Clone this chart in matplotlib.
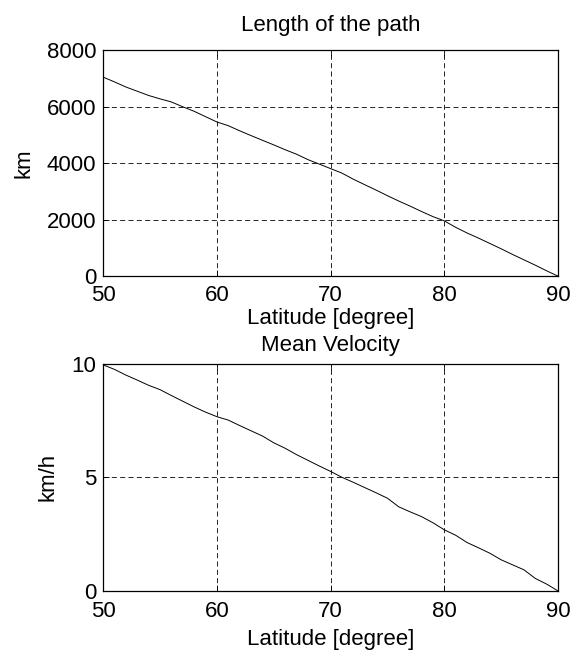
import matplotlib
matplotlib.use("Agg")
import matplotlib.pyplot as plt

# latitude [degree]
lat = list(range(50, 91))

# length of the path [km]
length_km = [7050, 6880, 6700, 6550, 6400, 6280, 6170, 6000, 5840, 5650,
             5462, 5330, 5150, 4980, 4814, 4650, 4480, 4320, 4130, 3970,
             3810, 3650, 3434, 3240, 3050, 2850, 2660, 2480, 2290, 2110,
             1959, 1730, 1530, 1350, 1160, 970, 770, 580, 390, 190, 0]

# mean velocity [km/h]
velocity = [9.95, 9.75, 9.5, 9.28, 9.05, 8.86, 8.6, 8.35, 8.1, 7.87,
            7.67, 7.52, 7.28, 7.05, 6.82, 6.52, 6.28, 6.0, 5.75, 5.5,
            5.26, 5.0, 4.78, 4.55, 4.32, 4.08, 3.7, 3.48, 3.27, 3.0,
            2.69, 2.45, 2.13, 1.9, 1.66, 1.37, 1.15, 0.93, 0.55, 0.3, 0.0]

plt.rcParams["font.family"] = ["Liberation Sans", "DejaVu Sans"]
FS = 16

fig = plt.figure(figsize=(5.73, 6.53), dpi=100)
ax1 = fig.add_axes([0.180, 0.577, 0.794, 0.346])
ax2 = fig.add_axes([0.180, 0.095, 0.794, 0.348])

def style(ax, xpad, lpad):
    ax.grid(True, color="black", linestyle=(0, (6, 4)), linewidth=0.6)
    ax.tick_params(direction="in", length=4, width=0.6, top=True, right=True,
                   labelsize=FS)
    ax.tick_params(axis="x", pad=xpad)
    ax.tick_params(axis="y", pad=5)
    for s in ax.spines.values():
        s.set_linewidth(0.9)
    ax.set_xlim(50, 90)
    ax.set_xticks([50, 60, 70, 80, 90])
    ax.set_xlabel("Latitude [degree]", fontsize=FS, labelpad=lpad)

ax1.plot(lat, length_km, color="black", linewidth=0.7)
ax1.set_ylim(0, 8000)
ax1.set_yticks([0, 2000, 4000, 6000, 8000])
ax1.set_ylabel("km", fontsize=FS, labelpad=9)
ax1.set_title("Length of the path", fontsize=FS, pad=14)
style(ax1, 6.5, 1)

ax2.plot(lat, velocity, color="black", linewidth=0.7)
ax2.set_ylim(0, 10)
ax2.set_yticks([0, 5, 10])
ax2.set_ylabel("km/h", fontsize=FS, labelpad=9)
ax2.set_title("Mean Velocity", fontsize=FS, pad=9)
style(ax2, 7, 5)

fig.savefig("out.png", dpi=100)
